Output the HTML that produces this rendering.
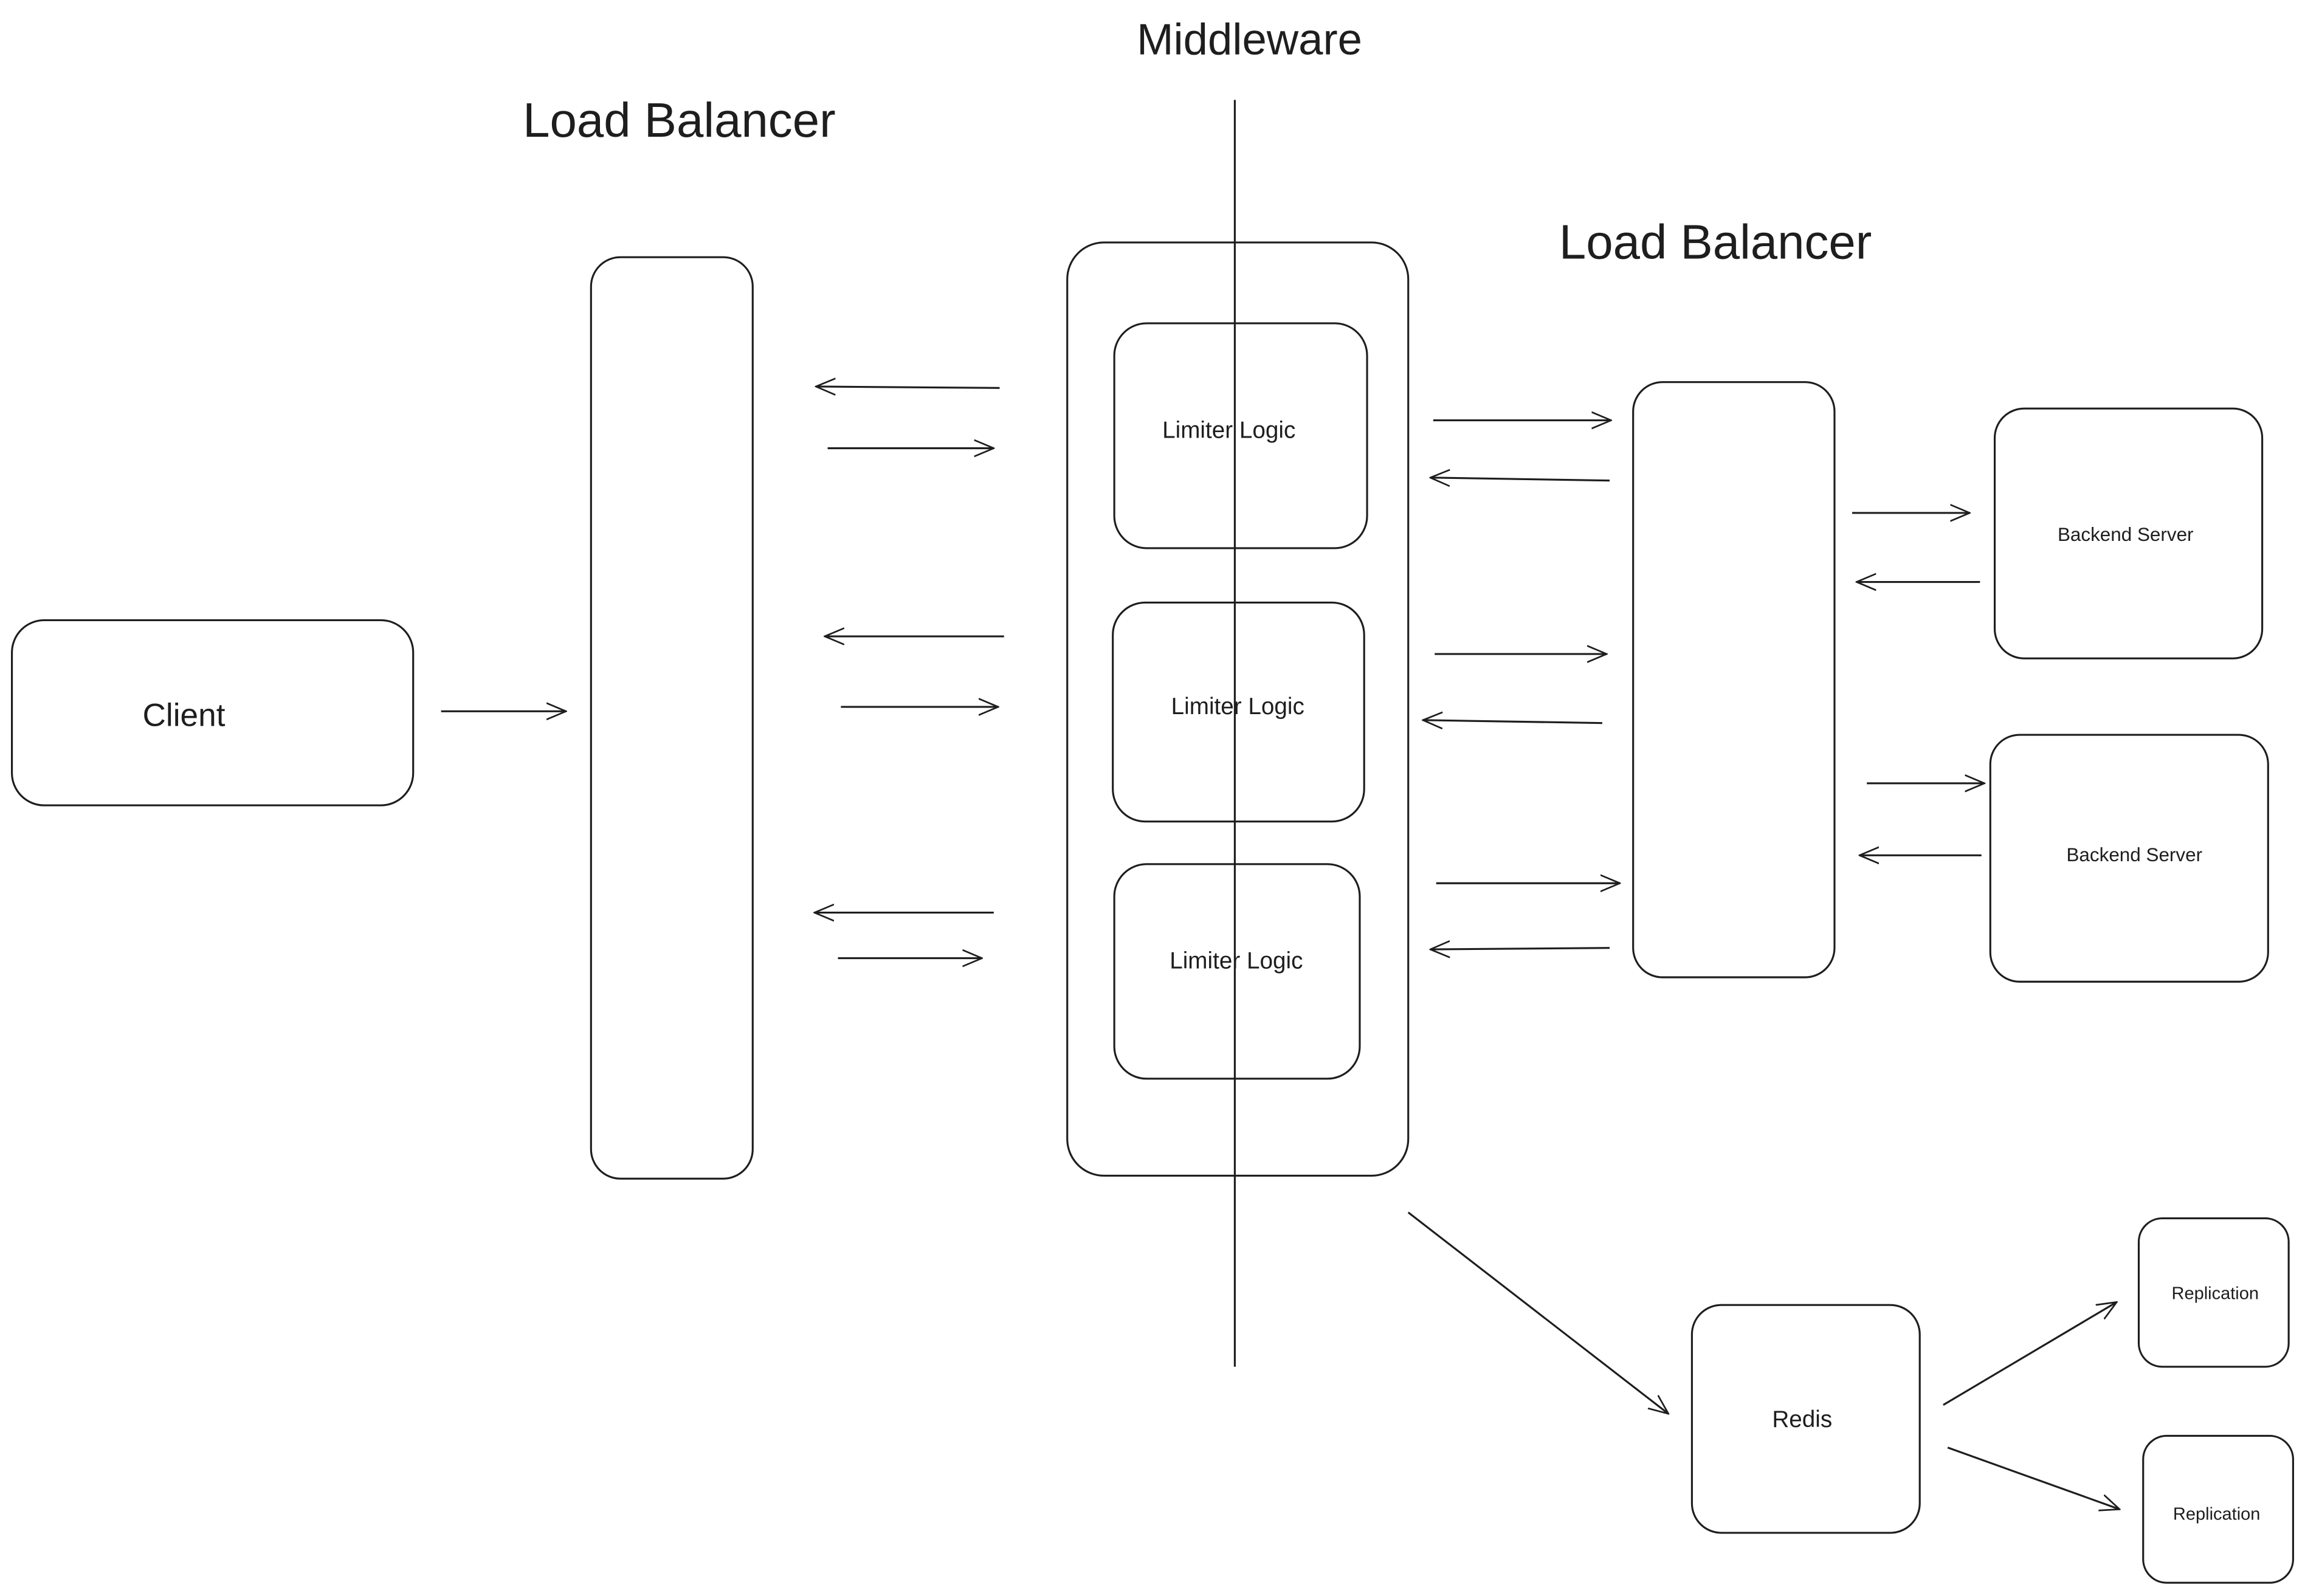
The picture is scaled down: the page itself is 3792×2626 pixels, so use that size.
<!DOCTYPE html>
<html><head><meta charset="utf-8"><style>
html,body{margin:0;padding:0;background:#fff;}
svg{display:block;}
text{font-family:"Liberation Sans",sans-serif;fill:#1e1e1e;}
</style></head><body>
<svg width="3792" height="2626" viewBox="0 0 1568 1086" xmlns="http://www.w3.org/2000/svg">
<defs>
<marker id="a" viewBox="0 0 20 20" refX="19" refY="10" markerWidth="14" markerHeight="14" markerUnits="userSpaceOnUse" orient="auto">
<path d="M0,2 L19,10 L0,18" fill="none" stroke="#1e1e1e" stroke-width="1.6"/>
</marker>
</defs>
<rect width="1568" height="1086" fill="#fff"/>
<g fill="none" stroke="#1e1e1e" stroke-width="1.3">
<rect x="402" y="175" width="110" height="627" rx="20"/>
<rect x="726" y="165" width="232" height="635" rx="25"/>
<rect x="758" y="220" width="172" height="153" rx="22"/>
<rect x="757" y="410" width="171" height="149" rx="22"/>
<rect x="758" y="588" width="167" height="146" rx="22"/>
<rect x="8" y="422" width="273" height="126" rx="22"/>
<rect x="1111" y="260" width="137" height="405" rx="20"/>
<rect x="1357" y="278" width="182" height="170" rx="20"/>
<rect x="1354" y="500" width="189" height="168" rx="20"/>
<rect x="1151" y="888" width="155" height="155" rx="20"/>
<rect x="1455" y="829" width="102" height="101" rx="16"/>
<rect x="1458" y="977" width="102" height="100" rx="16"/>
<line x1="840" y1="68" x2="840" y2="930"/>
<g marker-end="url(#a)">
<line x1="300" y1="484" x2="385" y2="484"/>
<line x1="680" y1="264" x2="555" y2="263"/>
<line x1="563" y1="305" x2="676" y2="305"/>
<line x1="683" y1="433" x2="561" y2="433"/>
<line x1="572" y1="481" x2="679" y2="481"/>
<line x1="676" y1="621" x2="554" y2="621"/>
<line x1="570" y1="652" x2="668" y2="652"/>
<line x1="975" y1="286" x2="1096" y2="286"/>
<line x1="1095" y1="327" x2="973" y2="325"/>
<line x1="976" y1="445" x2="1093" y2="445"/>
<line x1="1090" y1="492" x2="968" y2="490"/>
<line x1="977" y1="601" x2="1102" y2="601"/>
<line x1="1095" y1="645" x2="973" y2="646"/>
<line x1="1260" y1="349" x2="1340" y2="349"/>
<line x1="1347" y1="396" x2="1263" y2="396"/>
<line x1="1270" y1="533" x2="1350" y2="533"/>
<line x1="1348" y1="582" x2="1265" y2="582"/>
<line x1="958" y1="825" x2="1135" y2="962"/>
<line x1="1322" y1="956" x2="1440" y2="886"/>
<line x1="1325" y1="985" x2="1442" y2="1027"/>
</g>
</g>
<g text-anchor="middle">
<text x="850" y="37" font-size="30">Middleware</text>
<text x="462" y="93" font-size="33">Load Balancer</text>
<text x="1167" y="176" font-size="33">Load Balancer</text>
<text x="836" y="298" font-size="16">Limiter Logic</text>
<text x="842" y="486" font-size="16">Limiter Logic</text>
<text x="841" y="659" font-size="16">Limiter Logic</text>
<text x="125" y="494" font-size="22">Client</text>
<text x="1446" y="368" font-size="13">Backend Server</text>
<text x="1452" y="586" font-size="13">Backend Server</text>
<text x="1226" y="971" font-size="16">Redis</text>
<text x="1507" y="884" font-size="12">Replication</text>
<text x="1508" y="1034" font-size="12">Replication</text>
</g>
</svg>
</body></html>
